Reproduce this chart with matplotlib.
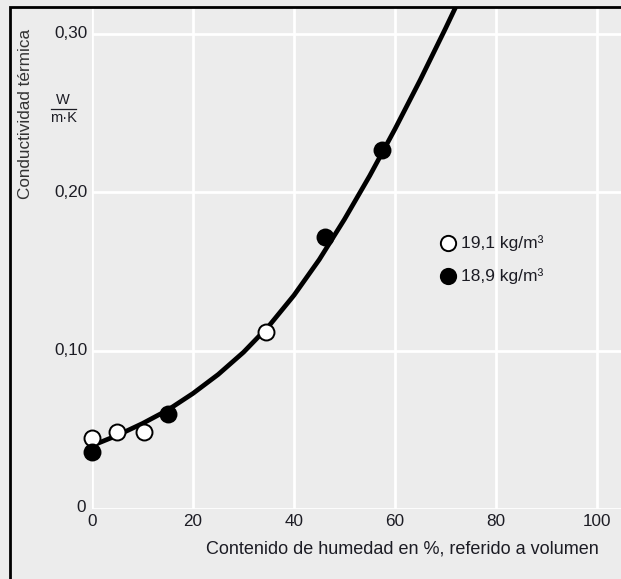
import matplotlib
matplotlib.use("Agg")
import matplotlib.pyplot as plt
from matplotlib.lines import Line2D
from matplotlib.patches import Rectangle

plt.rcParams['font.family'] = ['Liberation Sans', 'DejaVu Sans']

# puntos medidos
x_abiertos = [0, 5, 10.3, 34.5]
y_abiertos = [0.045, 0.0486, 0.0486, 0.112]
x_llenos = [0, 15, 46.1, 57.4]
y_llenos = [0.036, 0.060, 0.172, 0.2265]

# curva ajustada
x_curva = [0, 5, 10, 15, 20, 25, 30, 35, 40, 45, 50, 55, 60, 65, 70, 75]
y_curva = [0.040, 0.0465, 0.054, 0.0625, 0.073, 0.085, 0.099, 0.1155, 0.135,
           0.1575, 0.183, 0.2105, 0.240, 0.271, 0.3035, 0.337]

x_ticks = [0, 20, 40, 60, 80, 100]
y_ticks = [0.10, 0.20, 0.30]
y_labels = ['0,10', '0,20', '0,30']

fondo = '#ececec'
texto = '#1c1c24'

W, H = 621, 579
fig = plt.figure(figsize=(W / 100, H / 100), dpi=100, facecolor=fondo)

# ejes: x=0 en px 92, x=100 en px 597; y=0 en px 509, 0,30 en px 34
x0, x100 = 92, 597
y0, y30 = 509, 34
ppx = (x100 - x0) / 100
ppy = (y0 - y30) / 0.30
top_px = 7
xmax = (W - x0) / ppx
ymax = (y0 - top_px) / ppy
ax = fig.add_axes([x0 / W, (H - y0) / H, (W - x0) / W, (y0 - top_px) / H])
ax.set_facecolor(fondo)
ax.set_xlim(0, xmax)
ax.set_ylim(0, ymax)
for s in ax.spines.values():
    s.set_visible(False)

for xv in x_ticks:
    ax.axvline(xv, color='white', lw=2, zorder=1)
for yv in [0] + y_ticks:
    ax.axhline(yv, color='white', lw=2, zorder=1)

ax.set_xticks([])
ax.set_yticks([])

ax.plot(x_curva, y_curva, color='black', lw=3.4, zorder=2,
        solid_joinstyle='round')
ax.plot(x_abiertos, y_abiertos, 'o', ms=11.5, mfc='white', mec='black', mew=1.4,
        zorder=3, clip_on=False)
ax.plot(x_llenos, y_llenos, 'o', ms=11.5, mfc='black', mec='black', mew=1.4,
        zorder=3, clip_on=False)

# etiquetas de ticks
for xv in x_ticks:
    ax.text(xv, -13 / ppy, str(xv), ha='center', va='center', fontsize=12.3,
            color=texto)
for yv, lab in zip(y_ticks, y_labels):
    ax.text(-0.8, yv, lab, ha='right', va='center', fontsize=12.3, color=texto)
ax.text(-1.3, 0.001, '0', ha='right', va='center', fontsize=12.3, color=texto)

ax.text(100.3, -40 / ppy, 'Contenido de humedad en %, referido a volumen',
        ha='right', va='center', fontsize=13, color=texto)

# eje y: titulo y unidad
fig.text(26 / W, 1 - 114 / H, 'Conductividad térmica', rotation=90,
         ha='center', va='center', fontsize=12.3, color='#333333')
fig.text(63 / W, 1 - 100 / H, 'W', ha='center', va='center', fontsize=10.5, color=texto)
fig.text(63 / W, 1 - 118 / H, 'm·K', ha='center', va='center', fontsize=10.5, color=texto)
fig.add_artist(Line2D([51 / W, 76 / W], [1 - 108.5 / H, 1 - 108.5 / H],
                      color=texto, lw=0.9))

# leyenda
fig.add_artist(Line2D([448 / W], [1 - 243 / H], marker='o', ms=11,
                      mfc='white', mec='black', mew=1.4, ls=''))
fig.add_artist(Line2D([448 / W], [1 - 276 / H], marker='o', ms=11,
                      mfc='black', mec='black', mew=1.4, ls=''))
fig.text(461 / W, 1 - 243 / H, '19,1 kg/m³', ha='left', va='center',
         fontsize=12.5, color=texto)
fig.text(461 / W, 1 - 276 / H, '18,9 kg/m³', ha='left', va='center',
         fontsize=12.5, color=texto)

# marco
fig.add_artist(Rectangle((10 / W, -0.1), 1.5, 1 - 7 / H + 0.1,
                         transform=fig.transFigure, fill=False,
                         edgecolor='black', lw=2))

fig.savefig('out.png', dpi=100, facecolor=fondo)
